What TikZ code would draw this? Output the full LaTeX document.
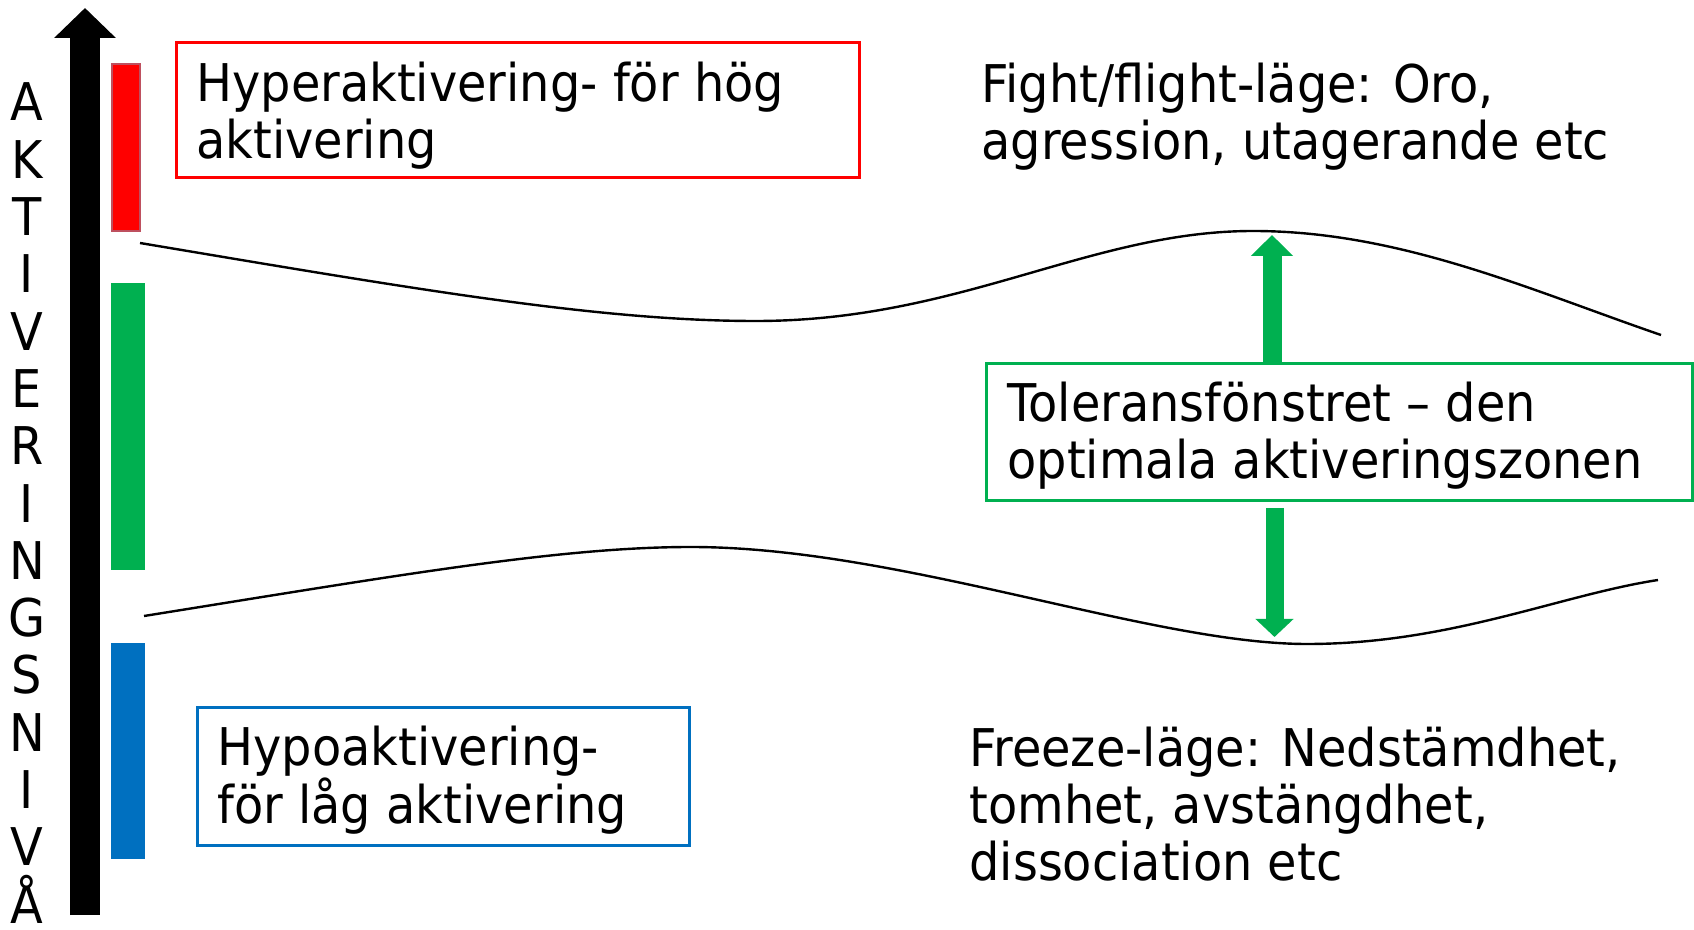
\documentclass[tikz,border=0pt]{standalone}
\usepackage{fontspec}
\setmainfont{DejaVu Sans}[FakeStretch=0.92]
\usetikzlibrary{arrows.meta,fit}
\definecolor{hired}{RGB}{255,0,0}
\definecolor{okgreen}{RGB}{0,176,80}
\definecolor{loblue}{RGB}{0,112,192}
\definecolor{barrim}{RGB}{190,80,95}
\begin{document}
\begin{tikzpicture}[x=0.5pt,y=-0.5pt,
  txt/.style={font=\fontsize{26pt}{28.5pt}\selectfont, inner sep=0pt, anchor=base west, align=left},
  letter/.style={font=\fontsize{26pt}{28.5pt}\selectfont, inner sep=0pt, anchor=base},
  framebox/.style={rectangle, line width=1.5pt, inner sep=0pt},
  barbox/.style={rectangle, inner sep=0pt},
  wave/.style={line width=1.2pt},
  garrow/.style={draw=okgreen, line width=9.5pt, -{Triangle[width=20.5pt,length=10.5pt,fill=okgreen]}},
]
\useasboundingbox (0,0) rectangle (1694,930);

% vertical axis arrow
\coordinate (axisbot) at (85,915);
\coordinate (axistop) at (85,8);
\draw[line width=15pt, -{Triangle[width=30pt,length=15pt]}] (axisbot) -- (axistop);

% vertical label
\foreach \ch [count=\i from 0] in {A,K,T,I,V,E,R,I,N,G,S,N,I,V,Å}
  \node[letter] (lt\i) at (27,{121+\i*57.3}) {\ch};

% bars
\node[barbox, fill=hired, draw=barrim, line width=1pt, fit={(112,64) (140,231)}] (redbar) {};
\node[barbox, fill=okgreen, fit={(111,283) (145,570)}] (greenbar) {};
\node[barbox, fill=loblue, fit={(111,643) (145,859)}] (bluebar) {};

% boxes (text anchored at the baseline of the last line)
\node[framebox, draw=hired, fit={(176,43) (859,178)}] (hyperbox) {};
\node[txt] (hypertxt) at (196,159) {Hyperaktivering- för hög\\aktivering};

\node[framebox, draw=loblue, fit={(197,708) (689,845)}] (hypobox) {};
\node[txt] (hypotxt) at (217,823) {Hypoaktivering-\\för låg aktivering};

\node[framebox, draw=okgreen, fit={(986,364) (1692,501)}] (tolbox) {};
\node[txt] (toltxt) at (1007,479) {Toleransfönstret – den\\optimala aktiveringszonen};

% plain texts
\node[txt] (fighttxt) at (981,160) {Fight/flight-läge: Oro,\\agression, utagerande etc};
\node[txt] (freezetxt) at (969,880) {Freeze-läge: Nedstämdhet,\\tomhet, avstängdhet,\\dissociation etc};

% wave lines
\draw[wave] (140,243) .. controls (420,290) and (600,321) .. (756,321)
  .. controls (960,321) and (1090,231) .. (1253,231)
  .. controls (1400,231) and (1530,290) .. (1661,335);
\draw[wave] (144,616) .. controls (400,575) and (560,547) .. (691,547)
  .. controls (900,547) and (1150,644) .. (1307,644)
  .. controls (1450,644) and (1560,595) .. (1658,580);

% green arrows
\coordinate (upstart) at (1272,363);
\coordinate (uptip) at (1272,235);
\coordinate (downstart) at (1274.5,508);
\coordinate (downtip) at (1274.5,637);
\draw[garrow] (upstart) -- (uptip);
\draw[garrow, line width=9pt, -{Triangle[width=18.5pt,length=9pt,fill=okgreen]}] (downstart) -- (downtip);
\end{tikzpicture}
\end{document}
